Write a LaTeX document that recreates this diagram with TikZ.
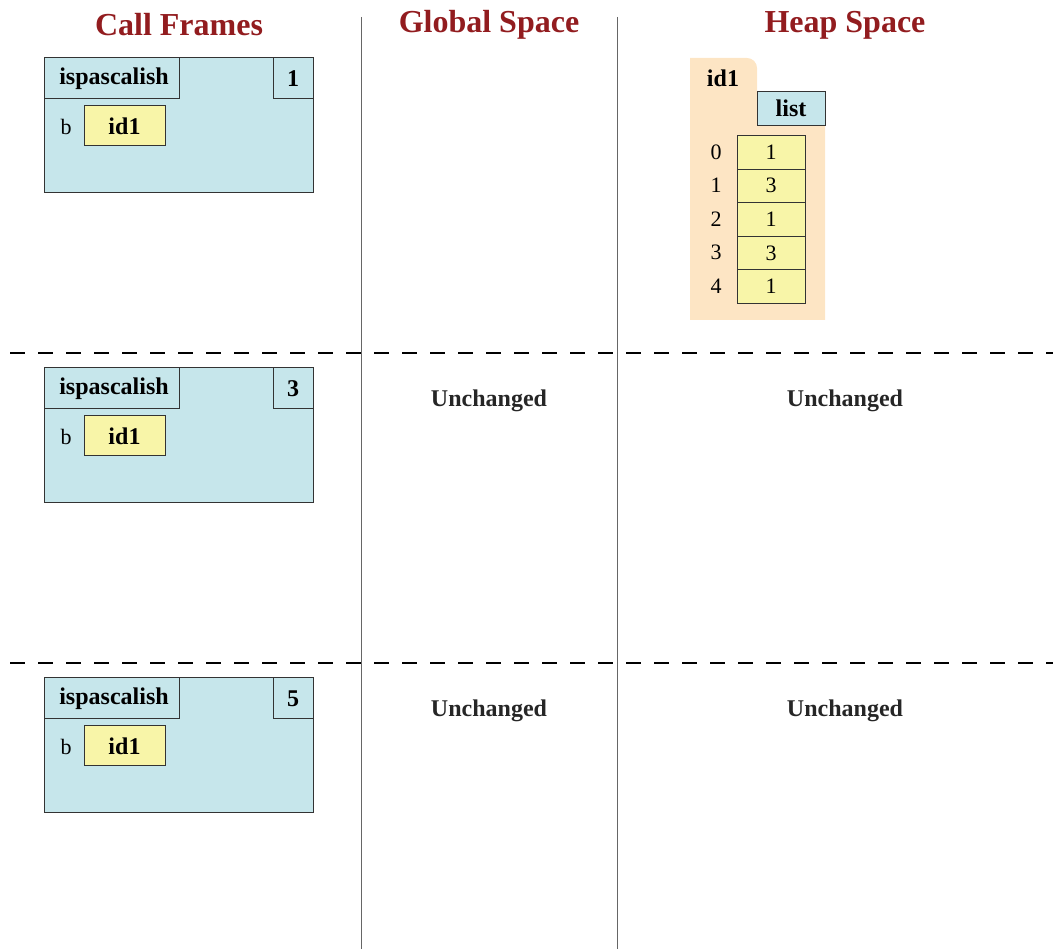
\documentclass[tikz,border=0pt]{standalone}
\usepackage{fontspec}
\setmainfont{Liberation Serif}
\definecolor{titlered}{HTML}{921C1F}
\definecolor{frameblue}{HTML}{C6E6EB}
\definecolor{valyellow}{HTML}{F8F5A8}
\definecolor{heaporange}{HTML}{FDE5C4}
\begin{document}
\begin{tikzpicture}[x=1pt,y=-1pt,
  title/.style={font=\fontsize{32}{34}\selectfont\bfseries, text=titlered},
  divider/.style={draw=gray!80!black, line width=1pt},
  sep/.style={draw=black, line width=2.8pt, dash pattern=on 15pt off 13pt},
  framebox/.style={draw=black!80, fill=frameblue, line width=0.8pt},
  valbox/.style={draw=black!80, fill=valyellow, line width=0.8pt},
  lbl/.style={font=\fontsize{22}{24}\selectfont},
  blbl/.style={font=\fontsize{24}{26}\selectfont\bfseries},
  unch/.style={font=\fontsize{24}{26}\selectfont\bfseries, text=black!85}]
\useasboundingbox (0,0) rectangle (1053,949);
% titles
\node[title] (t1) at (179,25) {Call Frames};
\node[title] (t2) at (489,25) {Global Space};
\node[title] (t3) at (845,25) {Heap Space};
% dividers
\coordinate (v1a) at (361,17); \coordinate (v1b) at (361,949);
\coordinate (v2a) at (617,17); \coordinate (v2b) at (617,949);
\draw[divider] (v1a) -- (v1b);
\draw[divider] (v2a) -- (v2b);
\coordinate (h1a) at (10,353); \coordinate (h1b) at (1053,353);
\coordinate (h2a) at (10,663); \coordinate (h2b) at (1053,663);
\draw[sep] (h1a) -- (h1b);
\draw[sep] (h2a) -- (h2b);
% frames
\foreach \dy/\n in {0/1, 310/3, 620/5}{
  \begin{scope}[yshift=-\dy pt]
  \draw[framebox] (44,57) rectangle (313,192);
  \draw[framebox] (44,57) rectangle (179,98);
  \draw[framebox] (273,57) rectangle (313,98);
  \node[blbl] at (114,78.5) {ispascalish};
  \node[blbl] at (293,78.5) {\n};
  \node[lbl] at (66,127) {b};
  \draw[valbox] (84,105) rectangle (165,145);
  \node[blbl] at (124.5,126) {id1};
  \end{scope}
}
% heap folder
\fill[heaporange] (690,320) -- (690,58) [rounded corners=10pt] -- (757,58) [sharp corners] -- (757,92) -- (825,92) -- (825,320) -- cycle;
\node[blbl] (hid) at (723,78) {id1};
\node[framebox, blbl, minimum width=68pt, minimum height=34pt, inner sep=0pt] (hlist) at (791,108) {list};
\foreach \i/\v in {0/1,1/3,2/1,3/3,4/1}{
  \node[valbox, lbl, minimum width=68pt, minimum height=33.6pt, inner sep=0pt, anchor=north] (c\i) at (771,135+33.6*\i) {\v};
  \node[lbl] (i\i) at (716,152+33.6*\i) {\i};
}
% unchanged
\node[unch] (u1) at (489,401) {Unchanged};
\node[unch] (u2) at (845,401) {Unchanged};
\node[unch] (u3) at (489,711) {Unchanged};
\node[unch] (u4) at (845,711) {Unchanged};
\end{tikzpicture}
\end{document}
